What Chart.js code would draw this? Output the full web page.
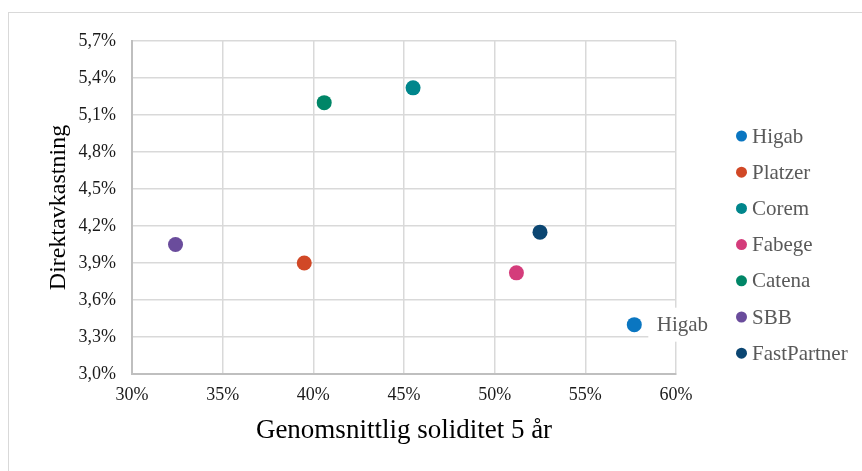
<!DOCTYPE html>
<html>
<head>
<meta charset="utf-8">
<script src="https://cdn.jsdelivr.net/npm/chart.js@4/dist/chart.umd.min.js"></script>
<style>
  body { margin: 0; background: #fff; overflow: hidden; }
  #frame { position: absolute; left: 8px; top: 12px; width: 1000px; height: 1000px; border: 1px solid #d9d9d9; }
  #chart { position: absolute; left: 0; top: 0; }
</style>
</head>
<body>
<div id="frame"></div>
<canvas id="chart" width="862" height="471"></canvas>
<script>
const companies = ['Higab', 'Platzer', 'Corem', 'Fabege', 'Catena', 'SBB', 'FastPartner'];
const soliditet = [57.7, 39.5, 45.5, 51.2, 40.6, 32.4, 52.5];
const direktavkastning = [3.4, 3.9, 5.32, 3.82, 5.2, 4.05, 4.15];
const colors = ['#0a76c1', '#d14826', '#00868c', '#d43c7b', '#008667', '#6a4c9c', '#0b4672'];
const xTicks = [30, 35, 40, 45, 50, 55, 60];
const yTicks = [3.0, 3.3, 3.6, 3.9, 4.2, 4.5, 4.8, 5.1, 5.4, 5.7];
const labelledPoint = 'Higab';

const FONT = "'Liberation Serif', 'Times New Roman', serif";

// legend drawn by hand so it sits where the original one does
const sideLegend = {
  id: 'sideLegend',
  afterDraw(chart) {
    const ctx = chart.ctx;
    ctx.save();
    ctx.font = '21px ' + FONT;
    ctx.textBaseline = 'middle';
    chart.data.datasets.forEach((ds, i) => {
      const y = 136 + i * 36.2;
      ctx.fillStyle = ds.backgroundColor;
      ctx.beginPath();
      ctx.arc(741.5, y, 5.5, 0, Math.PI * 2);
      ctx.fill();
      ctx.fillStyle = '#595959';
      ctx.fillText(ds.label, 752, y + 1);
    });
    ctx.restore();
  }
};

// data label next to one point, with white box behind it
const pointLabel = {
  id: 'pointLabel',
  afterDatasetsDraw(chart) {
    const idx = companies.indexOf(labelledPoint);
    const el = chart.getDatasetMeta(idx).data[0];
    const ctx = chart.ctx;
    ctx.save();
    ctx.font = '21px ' + FONT;
    const w = ctx.measureText(labelledPoint).width;
    ctx.fillStyle = '#fff';
    ctx.fillRect(el.x + 14, el.y - 17, w + 16, 34);
    ctx.fillStyle = '#595959';
    ctx.textBaseline = 'middle';
    ctx.fillText(labelledPoint, el.x + 22.5, el.y + 1);
    ctx.restore();
  }
};

const datasets = companies.map((name, i) => ({
  label: name,
  data: [{ x: soliditet[i], y: direktavkastning[i] }],
  backgroundColor: colors[i],
  borderColor: colors[i],
  pointRadius: 7.5,
  pointHoverRadius: 7.5,
  borderWidth: 0
}));

new Chart(document.getElementById('chart'), {
  type: 'scatter',
  data: { datasets: datasets },
  options: {
    responsive: false,
    animation: false,
    layout: { padding: { top: 41, right: 186, left: 0, bottom: 0 } },
    plugins: {
      legend: { display: false },
      tooltip: { enabled: false }
    },
    scales: {
      x: {
        min: 30,
        max: 60,
        afterFit: (scale) => { scale.height = 97; },
        afterBuildTicks: (scale) => { scale.ticks = xTicks.map(v => ({ value: v })); },
        grid: { color: '#d9d9d9', lineWidth: 1.5, drawTicks: false },
        border: { color: '#bfbfbf', width: 2 },
        ticks: {
          color: '#1a1a1a',
          padding: 10,
          font: { family: FONT, size: 18 },
          callback: (v) => v + '%'
        },
        title: {
          display: true,
          text: 'Genomsnittlig soliditet 5 år',
          color: '#000',
          font: { family: FONT, size: 27 },
          padding: { top: 0, bottom: 24 }
        }
      },
      y: {
        min: 3.0,
        max: 5.7,
        afterFit: (scale) => { scale.width = 132; },
        afterBuildTicks: (scale) => { scale.ticks = yTicks.map(v => ({ value: v })); },
        grid: { color: '#d9d9d9', lineWidth: 1.5, drawTicks: false },
        border: { color: '#bfbfbf', width: 2 },
        ticks: {
          color: '#1a1a1a',
          padding: 16,
          font: { family: FONT, size: 18 },
          callback: (v) => v.toFixed(1).replace('.', ',') + '%'
        },
        title: {
          display: true,
          text: 'Direktavkastning',
          color: '#000',
          font: { family: FONT, size: 24 },
          padding: { top: 44, bottom: 0 }
        }
      }
    }
  },
  plugins: [pointLabel, sideLegend]
});
</script>
</body>
</html>
